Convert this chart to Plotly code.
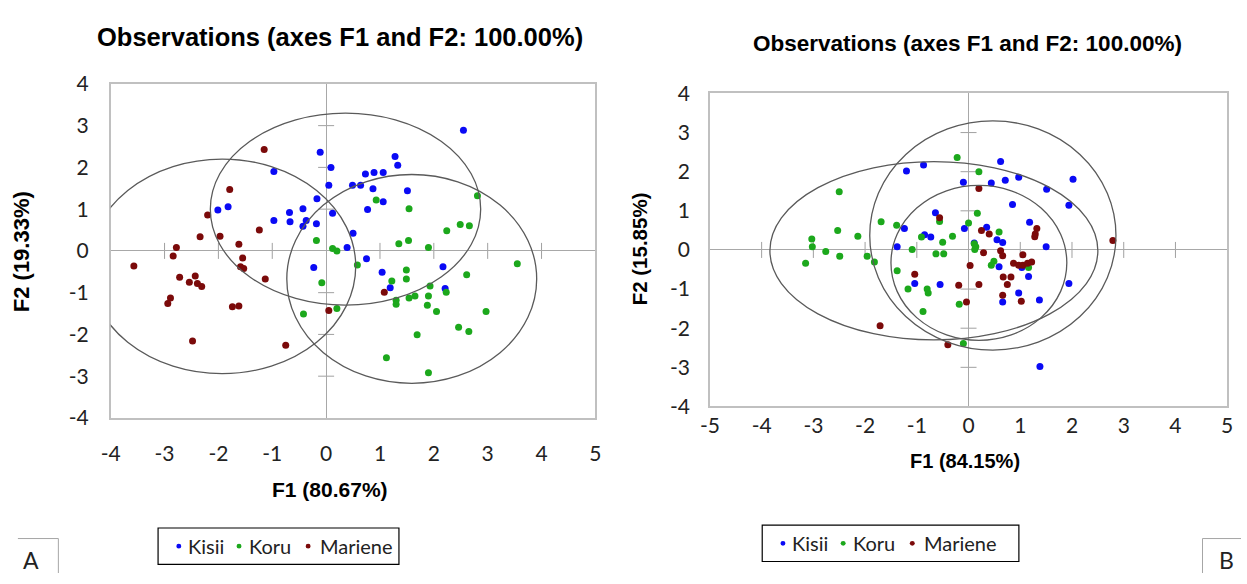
import plotly.graph_objects as go

W, H = 1247, 584

# ---------------- Chart A data (F1 80.67%, F2 19.33%) ----------------
a_kisii_x = [-0.11, 0.09, -0.97, 0.05, 0.49, 0.64, -0.17, 0.12, -2.01, -1.82, -0.97, -0.68, -0.67,
             -0.43, -0.37, -0.43, -0.18, 0.50, 0.39, -0.23, 2.55, 1.28, 1.33, 0.73, 0.89, 1.06, 0.87,
             1.51, 1.06, 0.77, 0.75, 1.04, 2.17, 1.19, 2.21]
a_kisii_y = [2.36, 2.00, 1.90, 1.57, 1.57, 1.57, 1.25, 0.90, 0.98, 1.06, 0.73, 0.92, 0.70,
             1.01, 0.73, 0.59, 0.65, 0.42, 0.08, -0.40, 2.89, 2.26, 2.05, 1.84, 1.88, 1.88, 1.49,
             1.44, 1.18, 0.99, -0.19, -0.51, -0.38, -0.88, -0.90]

a_koru_x = [-0.18, 0.12, 0.20, -0.08, 2.81, 0.93, 1.54, 2.49, 2.66, 2.24, 1.35, 1.53, 1.90, 0.58,
            3.55, 2.61, 1.49, 1.49, 1.22, 1.93, 2.23, 1.90, 1.65, 1.54, 1.30, 1.30, 1.88, 2.05,
            2.97, 0.20, 1.69, 2.46, 2.65, 1.12, 1.90, -0.42]
a_koru_y = [0.25, 0.06, 0.00, -0.76, 1.32, 1.22, 1.01, 0.63, 0.60, 0.48, 0.17, 0.25, 0.08, -0.34,
            -0.31, -0.57, -0.46, -0.67, -0.72, -0.84, -0.99, -1.08, -1.08, -1.13, -1.18, -1.28, -1.30, -1.45,
            -1.45, -1.38, -2.01, -1.83, -1.93, -2.56, -2.92, -1.51]

a_mar_x = [-1.15, -1.79, -2.20, -2.34, -1.97, -1.24, -1.62, -2.78, -2.84, -3.57, -1.55, -1.59, -1.53,
           -1.13, -2.72, -2.43, -2.54, -2.39, -2.31, -2.89, -2.94, -1.74, -1.62, -2.48, -0.75, 0.05, 1.08]
a_mar_y = [2.43, 1.47, 0.86, 0.34, 0.35, 0.50, 0.16, 0.08, -0.12, -0.36, -0.17, -0.38, -0.42,
           -0.67, -0.63, -0.60, -0.75, -0.78, -0.85, -1.13, -1.26, -1.34, -1.32, -2.16, -2.26, -1.43, -0.99]

# ellipses A: centre x, centre y, radius x, radius y (Kisii, Koru, Mariene)
a_ell_cx = [0.36, 1.59, -1.93]
a_ell_cy = [1.00, -0.67, -0.37]
a_ell_rx = [2.51, 2.32, 2.48]
a_ell_ry = [2.30, 2.50, 2.57]

# ---------------- Chart B data (F1 84.15%, F2 15.85%) ----------------
b_kisii_x = [-1.20, -0.87, -0.10, -0.64, -1.24, -0.85, -0.73, -0.08, -1.38, -1.04, -0.55, 0.62, 0.44,
             0.71, 0.97, 1.51, 2.02, 0.85, 1.94, 1.18, 0.35, 0.55, 0.66, 0.11, 1.50, 0.59, 1.03, 1.16,
             1.94, 0.97, 0.66, 1.37, 1.38]
b_kisii_y = [2.02, 2.17, 1.73, 0.95, 0.55, 0.39, 0.33, 0.55, 0.08, -0.86, -0.88, 2.26, 1.71,
             1.78, 1.86, 1.55, 1.81, 1.16, 1.14, 0.71, 0.58, 0.26, 0.19, 0.18, 0.08, -0.43, -0.45, -0.68,
             -0.86, -1.10, -1.33, -1.28, -2.98]

b_koru_x = [-0.22, 0.20, -2.50, -1.69, -1.39, -0.56, -2.53, -2.14, -3.03, -3.02, -2.76, -2.49, -3.15,
            -1.96, -1.82, -1.38, -1.09, -0.91, -0.50, -0.31, -0.63, -0.48, 0.00, -1.17, -0.80, -0.78,
            -0.88, -0.18, -0.10, 0.17, 0.59, 0.11, 0.14, 0.12, 0.49, 0.44, 1.16]
b_koru_y = [2.36, 2.00, 1.49, 0.72, 0.63, 0.73, 0.50, 0.35, 0.28, 0.08, -0.04, -0.16, -0.34,
            -0.16, -0.31, -0.53, 0.01, 0.33, 0.20, 0.35, -0.10, -0.10, 0.69, -1.00, -1.00, -1.10,
            -1.57, -1.39, -2.39, 0.94, 0.46, 0.16, 0.08, 0.01, -0.29, -0.39, -0.45]

b_mar_x = [-0.56, 0.03, -1.04, -0.19, -0.04, -1.71, -0.40, 0.20, 0.25, 0.40, 1.32, 1.29, 1.28, 2.79,
           0.29, 0.62, 0.66, 1.05, 0.87, 0.97, 1.05, 1.14, 1.22, 0.67, 0.82, 0.75, 0.20, 0.66, 1.02]
b_mar_y = [0.82, -0.40, -0.62, -0.90, -1.33, -1.94, -2.42, 1.57, 0.50, 0.41, 0.55, 0.41, 0.34, 0.24,
           -0.07, -0.02, -0.15, -0.12, -0.34, -0.39, -0.39, -0.34, -0.31, -0.69, -0.69, -0.88, -0.88, -1.16, -1.31]

b_ell_cx = [0.47, -0.67, 0.20]
b_ell_cy = [0.37, -0.02, -0.33]
b_ell_rx = [2.38, 3.17, 1.70]
b_ell_ry = [2.93, 2.28, 1.98]

groups = ["Kisii", "Koru", "Mariene"]
colors = ["#0a0af5", "#1ca81c", "#7b0a0a"]

a_xticks = [-4, -3, -2, -1, 0, 1, 2, 3, 4, 5]
b_xticks = [-5, -4, -3, -2, -1, 0, 1, 2, 3, 4, 5]
yticks = [-4, -3, -2, -1, 0, 1, 2, 3, 4]

a_axis_marks_x = [-3, -2, -1, 1, 2, 3, 4]
a_axis_marks_y = [-3, -2, -1, 1, 2, 3]
b_axis_marks_x = [-4, -3, -2, -1, 1, 2, 3, 4]
b_axis_marks_y = [-3, -2, -1, 1, 2, 3]


def px_x(p):
    return p / W


def px_y(p):
    return 1 - p / H


def lab(v):
    return str(v)  # plain hyphen-minus like the original


fig = go.Figure()

a_sets = [(a_kisii_x, a_kisii_y), (a_koru_x, a_koru_y), (a_mar_x, a_mar_y)]
b_sets = [(b_kisii_x, b_kisii_y), (b_koru_x, b_koru_y), (b_mar_x, b_mar_y)]

for (xs, ys), name, col in zip(a_sets, groups, colors):
    fig.add_trace(go.Scatter(x=xs, y=ys, mode="markers", name=name, showlegend=False,
                             marker=dict(color=col, size=7), xaxis="x", yaxis="y"))
for (xs, ys), name, col in zip(b_sets, groups, colors):
    fig.add_trace(go.Scatter(x=xs, y=ys, mode="markers", name=name, showlegend=False,
                             marker=dict(color=col, size=7), xaxis="x2", yaxis="y2"))

shapes = []
ell_line = dict(color="#5a5a5a", width=1.3)
for cx, cy, rx, ry in zip(a_ell_cx, a_ell_cy, a_ell_rx, a_ell_ry):
    shapes.append(dict(type="circle", xref="x", yref="y", x0=cx - rx, x1=cx + rx,
                       y0=cy - ry, y1=cy + ry, line=ell_line, layer="above"))
for cx, cy, rx, ry in zip(b_ell_cx, b_ell_cy, b_ell_rx, b_ell_ry):
    shapes.append(dict(type="circle", xref="x2", yref="y2", x0=cx - rx, x1=cx + rx,
                       y0=cy - ry, y1=cy + ry, line=ell_line, layer="above"))

tick_line = dict(color="#a0a0a0", width=1)
for xr, yr, tx, ty in [("x", "y", a_axis_marks_x, a_axis_marks_y), ("x2", "y2", b_axis_marks_x, b_axis_marks_y)]:
    for t in tx:
        shapes.append(dict(type="line", xref=xr, yref=yr, x0=t, x1=t, ysizemode="pixel",
                           yanchor=0, y0=-8, y1=8, line=tick_line, layer="below"))
    for t in ty:
        shapes.append(dict(type="line", xref=xr, yref=yr, y0=t, y1=t, xsizemode="pixel",
                           xanchor=0, x0=-8, x1=8, line=tick_line, layer="below"))

# corner label boxes
box_line = dict(color="#a6a6a6", width=1)
shapes += [
    dict(type="line", xref="paper", yref="paper", x0=px_x(8), x1=px_x(49), y0=px_y(548), y1=px_y(548), line=box_line),
    dict(type="line", xref="paper", yref="paper", x0=px_x(49), x1=px_x(49), y0=px_y(548), y1=px_y(584), line=box_line),
    dict(type="line", xref="paper", yref="paper", x0=px_x(1208), x1=px_x(1247), y0=px_y(548), y1=px_y(548), line=box_line),
    dict(type="line", xref="paper", yref="paper", x0=px_x(1208), x1=px_x(1208), y0=px_y(548), y1=px_y(584), line=box_line),
]

BOLD = "Liberation Sans, Arial"
tick_font = dict(family="Lato, Open Sans", size=21, color="#222222")
leg_font = dict(family="Lato, Open Sans", size=20, color="#222222")

annotations = [
    dict(text="<b>Observations (axes F1 and F2: 100.00%)</b>", x=px_x(334), y=px_y(24), xref="paper", yref="paper",
         showarrow=False, font=dict(family=BOLD, size=25.5, color="#000"), xanchor="center", yanchor="middle"),
    dict(text="<b>Observations (axes F1 and F2: 100.00%)</b>", x=px_x(970), y=px_y(31), xref="paper", yref="paper",
         showarrow=False, font=dict(family=BOLD, size=22.5, color="#000"), xanchor="center", yanchor="middle"),
    dict(text="<b>F1 (80.67%)</b>", x=px_x(324), y=px_y(497), xref="paper", yref="paper",
         showarrow=False, font=dict(family=BOLD, size=21, color="#000"), xanchor="center", yanchor="middle"),
    dict(text="<b>F1 (84.15%)</b>", x=px_x(967), y=px_y(467), xref="paper", yref="paper",
         showarrow=False, font=dict(family=BOLD, size=20, color="#000"), xanchor="center", yanchor="middle"),
    dict(text="<b>F2 (19.33%)</b>", x=px_x(12), y=px_y(248), xref="paper", yref="paper", textangle=-90,
         showarrow=False, font=dict(family=BOLD, size=22, color="#000"), xanchor="center", yanchor="middle"),
    dict(text="<b>F2 (15.85%)</b>", x=px_x(638), y=px_y(245), xref="paper", yref="paper", textangle=-90,
         showarrow=False, font=dict(family=BOLD, size=20.5, color="#000"), xanchor="center", yanchor="middle"),
    dict(text="A", x=px_x(21), y=px_y(570), xref="paper", yref="paper",
         showarrow=False, font=dict(family="Lato, Open Sans", size=23, color="#222"), xanchor="center", yanchor="middle"),
    dict(text="B", x=px_x(1232), y=px_y(570), xref="paper", yref="paper",
         showarrow=False, font=dict(family="Lato, Open Sans", size=23, color="#222"), xanchor="center", yanchor="middle"),
]

# hand-built legends (box, coloured dot, label) mimicking the original compact legend
legend_boxes = [(150, 537, 394, 575), (762, 534, 1022, 572)]
legend_dot_offsets = [21, 82, 152]
legend_text_offsets = [28, 90, 162]
for (bx0, by0, bx1, by1) in legend_boxes:
    shapes.append(dict(type="rect", xref="paper", yref="paper", x0=px_x(bx0), x1=px_x(bx1),
                       y0=px_y(by1), y1=px_y(by0), line=dict(color="#000000", width=1.2)))
    yc = (by0 + by1) / 2
    for name, col, dx, tx in zip(groups, colors, legend_dot_offsets, legend_text_offsets):
        cx = bx0 + dx
        shapes.append(dict(type="circle", xref="paper", yref="paper",
                           x0=px_x(cx - 2.5), x1=px_x(cx + 2.5), y0=px_y(yc + 2.5), y1=px_y(yc - 2.5),
                           fillcolor=col, line=dict(width=0)))
        annotations.append(dict(text=name, x=px_x(bx0 + tx), y=px_y(yc), xref="paper", yref="paper",
                                showarrow=False, font=leg_font, xanchor="left", yanchor="middle"))

axis_common = dict(showgrid=False, zeroline=True, zerolinecolor="#a8a8a8", zerolinewidth=1,
                   showline=True, mirror=True, linecolor="#c0c0c0", linewidth=1.5,
                   ticks="", tickfont=tick_font, fixedrange=True, tickmode="array")

fig.update_layout(
    width=W, height=H,
    margin=dict(l=0, r=0, t=0, b=0),
    paper_bgcolor="white", plot_bgcolor="white",
    font=dict(color="#000"),
    xaxis=dict(domain=[px_x(102), px_x(593)], range=[-4, 5], anchor="y", ticklabelstandoff=16,
               tickvals=a_xticks, ticktext=[lab(v) for v in a_xticks], **axis_common),
    yaxis=dict(domain=[px_y(422), px_y(73)], range=[-4, 4], anchor="x", ticklabelstandoff=16,
               tickvals=yticks, ticktext=[lab(v) for v in yticks], **axis_common),
    xaxis2=dict(domain=[px_x(709), px_x(1233)], range=[-5, 5], anchor="y2", ticklabelstandoff=0,
                tickvals=b_xticks, ticktext=[lab(v) for v in b_xticks], **axis_common),
    yaxis2=dict(domain=[px_y(410), px_y(83)], range=[-4, 4], anchor="x2", ticklabelstandoff=14,
                tickvals=yticks, ticktext=[lab(v) for v in yticks], **axis_common),
    shapes=shapes,
    annotations=annotations,
    showlegend=False,
)

fig.write_html("out.html", config={"displayModeBar": False},
               post_script="document.body.style.margin='0px';")
